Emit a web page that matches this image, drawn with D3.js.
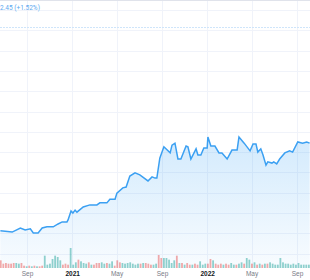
<!DOCTYPE html>
<html>
<head>
<meta charset="utf-8">
<style>
    body { margin: 0; background: #fff; }
    svg { display: block; font-family: Roboto, sans-serif; }
    .grid line { stroke: #f0f3fa; stroke-width: 1px; }
    .price-line { fill: none; stroke: #3ba0f2; stroke-width: 1.5px; }
    .axis path, .axis line { display: none; }
    .axis text { font-size: 6.5px; fill: #787b86; }
    .axis text.year { fill: #131722; font-weight: bold; }
</style>
<script src="https://cdn.jsdelivr.net/npm/d3@7"></script>
</head>
<body>
<script>
// price line
const dates = ["2020-06-21","2020-07-23","2020-08-14","2020-08-27","2020-09-10","2020-09-18","2020-10-01","2020-10-12",
    "2020-10-25","2020-11-11","2020-11-24","2020-12-05","2020-12-18","2020-12-21","2020-12-29","2021-01-03","2021-01-09",
    "2021-01-14","2021-01-31","2021-02-18","2021-03-09","2021-03-17","2021-04-05","2021-04-13","2021-04-27","2021-05-02",
    "2021-05-18","2021-05-27","2021-06-06","2021-06-20","2021-07-03","2021-07-25","2021-08-05","2021-08-13","2021-08-18",
    "2021-08-26","2021-09-06","2021-09-23","2021-09-28","2021-10-06","2021-10-14","2021-10-22","2021-11-05","2021-11-10",
    "2021-11-18","2021-12-02","2021-12-07","2021-12-15","2021-12-23","2022-01-01","2022-01-03","2022-01-11","2022-01-22",
    "2022-02-02","2022-02-10","2022-02-24","2022-03-09","2022-03-23","2022-03-28","2022-04-11","2022-04-27","2022-05-05",
    "2022-05-13","2022-05-18","2022-05-26","2022-06-01","2022-06-09","2022-06-14","2022-06-25","2022-06-30","2022-07-08",
    "2022-07-16","2022-07-30","2022-08-12","2022-08-20","2022-09-03","2022-09-16","2022-09-27","2022-10-05"];
const prices = [140.6,140.3,141.3,140.8,141.1,140.1,140.1,141.3,141.6,141.6,142.3,142.8,142.8,143.3,145.5,145.0,145.7,
    145.2,146.5,147.0,147.0,147.5,147.5,148.4,148.4,149.9,151.2,151.4,154.1,154.9,154.4,152.9,153.9,153.6,153.6,
    158.5,161.3,159.8,161.7,162.2,158.3,158.3,161.5,161.3,158.3,160.8,159.3,159.3,161.0,161.0,163.7,161.5,161.5,
    159.8,159.8,158.3,160.5,160.5,163.7,162.2,160.3,162.0,162.0,160.0,160.8,159.3,156.8,157.6,157.3,157.6,157.1,
    158.3,159.8,160.3,160.0,162.5,162.2,162.5,162.2];

// weekly volume (M), first week starts 2020-06-22; u = up week, d = down week
const volStart = "2020-06-22";
const volumes = [23,13,15,13,13,15,15,13,15,7, 5,7,5,7,5,5,7,37,10,13, 27,37,33,23,10,13,10,60,10,17,
    25,20,15,13,17,10,10,15,15,17, 13,15,13,20,7,23,17,15,13,15, 17,13,10,13,13,15,15,13,10,10,
    13,39,30,30,30,25,15,23,37,15, 15,10,15,10,10,13,10,20,10,13, 13,27,23,13,10,13,10,13,10,15,
    10,10,13,17,13,30,25,13,17,10, 13,10,13,13,17,13,10,10,30,17, 13,13,10,13,10,15,10,10,10,10];
const volDir = "dddddduuddudududduuuuuuuddduuudu uudu ddduudu udd du uuuuuudud dduudd uuuuudud udd udduuud dud dd u dd u uduudu u dudududu"
    .replace(/ /g, "");

const tickDates = ["2020-09-01","2021-01-01","2021-05-01","2021-09-01","2022-01-01","2022-05-01","2022-09-01"];
const priceTicks = d3.range(130, 200, 5);
const refPrice = 190.8;
const changeText = "2.45 (+1.52%)";

const W = 310, H = 280;
const parse = d3.utcParse("%Y-%m-%d");
const data = dates.map((d, i) => ({ date: parse(d), price: prices[i] }));
const vstart = parse(volStart);
const vols = volumes.map((v, i) => ({ date: d3.utcDay.offset(vstart, i * 7), vol: v, up: volDir[i] !== "d" }));

const x = d3.scaleUtc()
    .domain([parse("2020-06-20"), parse("2022-10-06")])
    .range([0, W]);
const y = d3.scaleLinear().domain([140, 195]).range([233.3, 10]);
const yv = d3.scaleLinear().domain([0, 60]).range([268, 248]);
const plotBottom = 268;

const svg = d3.select("body").append("svg").attr("width", W).attr("height", H);

const grad = svg.append("defs").append("linearGradient")
    .attr("id", "fill").attr("x1", 0).attr("y1", 0).attr("x2", 0).attr("y2", 1);
grad.append("stop").attr("offset", "0%").attr("stop-color", "#2196f3").attr("stop-opacity", 0.2);
grad.append("stop").attr("offset", "100%").attr("stop-color", "#2196f3").attr("stop-opacity", 0.03);

// grid
const grid = svg.append("g").attr("class", "grid");
grid.selectAll("line.h")
    .data(priceTicks.filter(p => y(p) < plotBottom))
    .join("line").attr("class", "h")
    .attr("x1", 0).attr("x2", W)
    .attr("y1", d => Math.round(y(d)) + 0.5).attr("y2", d => Math.round(y(d)) + 0.5);
grid.selectAll("line.v")
    .data(tickDates.map(parse))
    .join("line").attr("class", "v")
    .attr("x1", d => Math.round(x(d)) + 0.5).attr("x2", d => Math.round(x(d)) + 0.5)
    .attr("y1", 0).attr("y2", plotBottom);

// top border
svg.append("line").attr("x1", 0).attr("x2", W).attr("y1", 0.5).attr("y2", 0.5)
    .attr("stroke", "#e0e3eb");

// reference dashed line
svg.append("line")
    .attr("x1", 0).attr("x2", W)
    .attr("y1", Math.round(y(refPrice)) + 0.5).attr("y2", Math.round(y(refPrice)) + 0.5)
    .attr("stroke", "#cfe5fa").attr("stroke-dasharray", "2,1");

// volume
svg.append("g").selectAll("rect")
    .data(vols)
    .join("rect")
    .attr("x", d => x(d.date) - 0.9)
    .attr("width", 1.8)
    .attr("y", d => yv(d.vol))
    .attr("height", d => plotBottom - yv(d.vol))
    .attr("fill", d => d.up ? "#26a69a" : "#ef5350")
    .attr("fill-opacity", 0.5);

// area + line
const area = d3.area().x(d => x(d.date)).y0(plotBottom).y1(d => y(d.price));
svg.append("path").attr("d", area(data)).attr("fill", "url(#fill)");
const line = d3.line().x(d => x(d.date)).y(d => y(d.price));
svg.append("path").attr("class", "price-line").attr("d", line(data));

// time axis
const fmt = d => d.getUTCMonth() === 0 ? d3.utcFormat("%Y")(d) : d3.utcFormat("%b")(d);
const axis = svg.append("g").attr("class", "axis")
    .attr("transform", "translate(0," + 269 + ")")
    .call(d3.axisBottom(x).tickValues(tickDates.map(parse)).tickFormat(fmt).tickSize(0).tickPadding(2));
axis.selectAll("text").classed("year", d => d.getUTCMonth() === 0);

// change label
svg.append("text")
    .attr("x", 0).attr("y", 10)
    .attr("font-size", 6.5)
    .attr("fill", "#5ba9f0")
    .text(changeText);
</script>
</body>
</html>
